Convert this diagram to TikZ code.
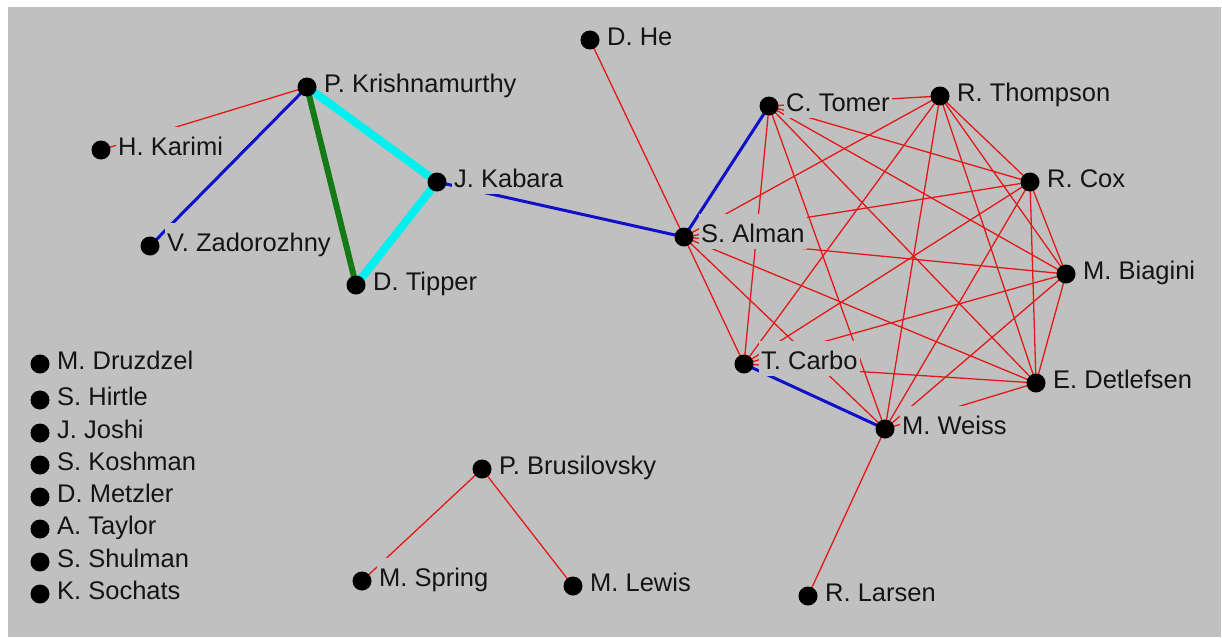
\documentclass[tikz,border=0pt]{standalone}
\usepackage{fontspec}
\setmainfont{Liberation Sans}
\definecolor{bg}{RGB}{192,192,192}
\definecolor{tie}{RGB}{228,24,24}
\definecolor{tieblue}{RGB}{16,16,200}
\definecolor{tiecyan}{RGB}{0,240,240}
\definecolor{tiegreen}{RGB}{20,122,20}
\tikzset{
  weak/.style={draw=tie, line width=1.3pt},
  medium/.style={draw=tieblue, line width=3pt},
  strong/.style={draw=tiegreen, line width=6pt},
  strongest/.style={draw=tiecyan, line width=8pt},
  who/.style={anchor=west, fill=bg, inner xsep=2pt, inner ysep=0pt,
    minimum height=35pt, text height=22pt, text depth=0pt,
    text=black!92, font=\fontsize{25.5pt}{30pt}\selectfont,
    xshift=15pt, yshift=6pt},
  dot/.style={circle, fill=black, inner sep=0pt, minimum size=19pt}
}
\begin{document}
\begin{tikzpicture}[x=1pt, y=-1pt]
  % canvas
  \fill[white] (0,0) rectangle (1222,637);
  \fill[bg] (8,7) rectangle (1221,637);
  \useasboundingbox (0,0) rectangle (1222,637);

  % people
  \coordinate (he) at (590,40);
  \coordinate (krish) at (307,87);
  \coordinate (karimi) at (101,150);
  \coordinate (kabara) at (437,182);
  \coordinate (zad) at (150,246);
  \coordinate (tipper) at (356,285);
  \coordinate (alman) at (684,237);
  \coordinate (tomer) at (769,106);
  \coordinate (thompson) at (940,96);
  \coordinate (cox) at (1030,182);
  \coordinate (biagini) at (1066,274);
  \coordinate (detlefsen) at (1036,383);
  \coordinate (carbo) at (744,364);
  \coordinate (weiss) at (885,429);
  \coordinate (larsen) at (808,596);
  \coordinate (brus) at (482,469);
  \coordinate (spring) at (362,581);
  \coordinate (lewis) at (573,586);
  \coordinate (druzdzel) at (40,364);
  \coordinate (hirtle) at (40,400);
  \coordinate (joshi) at (40,433);
  \coordinate (koshman) at (40,465);
  \coordinate (metzler) at (40,497);
  \coordinate (taylor) at (40,529);
  \coordinate (shulman) at (40,562);
  \coordinate (sochats) at (40,594);

  % ties between people
  \draw[weak] (krish) -- (karimi);
  \draw[medium] (krish) -- (zad);
  \draw[medium] (kabara) -- (alman);
  \draw[weak] (he) -- (alman);
  \draw[weak] (weiss) -- (larsen);
  \draw[weak] (brus) -- (spring);
  \draw[weak] (brus) -- (lewis);
  % the eight-person group: everyone tied to everyone
  \foreach \a/\b in {alman/carbo, alman/weiss, alman/detlefsen, alman/biagini,
      alman/cox, alman/thompson,
      tomer/thompson, tomer/cox, tomer/biagini, tomer/detlefsen, tomer/weiss, tomer/carbo,
      thompson/cox, thompson/biagini, thompson/detlefsen, thompson/weiss, thompson/carbo,
      cox/biagini, cox/detlefsen, cox/weiss, cox/carbo,
      biagini/detlefsen, biagini/weiss, biagini/carbo,
      detlefsen/weiss, detlefsen/carbo}
    \draw[weak] (\a) -- (\b);
  \draw[medium] (alman) -- (tomer);
  \draw[medium] (carbo) -- (weiss);

  % names
  \node[who] (he-l) at (he) {D. He};
  \node[who] (krish-l) at (krish) {P. Krishnamurthy};
  \node[who] (karimi-l) at (karimi) {H. Karimi};
  \node[who] (kabara-l) at (kabara) {J. Kabara};
  \node[who] (zad-l) at (zad) {V. Zadorozhny};
  \node[who] (tipper-l) at (tipper) {D. Tipper};
  \node[who] (alman-l) at (alman) {S. Alman};
  \node[who] (tomer-l) at (tomer) {C. Tomer};
  \node[who] (thompson-l) at (thompson) {R. Thompson};
  \node[who] (cox-l) at (cox) {R. Cox};
  \node[who] (biagini-l) at (biagini) {M. Biagini};
  \node[who] (detlefsen-l) at (detlefsen) {E. Detlefsen};
  \node[who] (carbo-l) at (carbo) {T. Carbo};
  \node[who] (weiss-l) at (weiss) {M. Weiss};
  \node[who] (larsen-l) at (larsen) {R. Larsen};
  \node[who] (brus-l) at (brus) {P. Brusilovsky};
  \node[who] (spring-l) at (spring) {M. Spring};
  \node[who] (lewis-l) at (lewis) {M. Lewis};
  \node[who] (druzdzel-l) at (druzdzel) {M. Druzdzel};
  \node[who] (hirtle-l) at (hirtle) {S. Hirtle};
  \node[who] (joshi-l) at (joshi) {J. Joshi};
  \node[who] (koshman-l) at (koshman) {S. Koshman};
  \node[who] (metzler-l) at (metzler) {D. Metzler};
  \node[who] (taylor-l) at (taylor) {A. Taylor};
  \node[who] (shulman-l) at (shulman) {S. Shulman};
  \node[who] (sochats-l) at (sochats) {K. Sochats};

  % the heaviest ties sit above the name plates
  \draw[strong] (krish) -- (tipper);
  \draw[strongest, line cap=round] (krish) -- (kabara) -- (tipper);

  % markers
  \foreach \p in {he, krish, karimi, kabara, zad, tipper, alman, tomer, thompson,
      cox, biagini, detlefsen, carbo, weiss, larsen, brus, spring, lewis,
      druzdzel, hirtle, joshi, koshman, metzler, taylor, shulman, sochats}
    \node[dot] (\p-d) at (\p) {};
\end{tikzpicture}
\end{document}
